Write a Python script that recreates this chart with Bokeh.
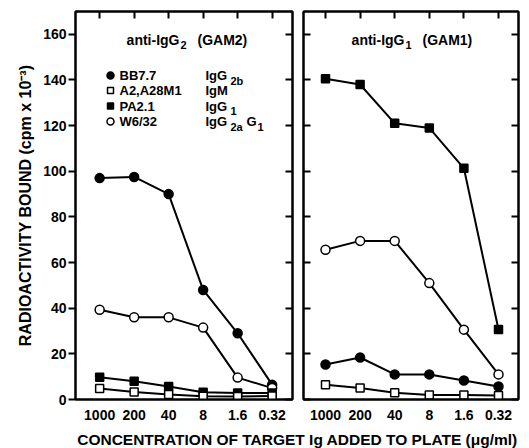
from bokeh.plotting import figure
from bokeh.models import Range1d, LinearAxis, FixedTicker
from bokeh.layouts import row, column
from bokeh.core.properties import value
from bokeh.embed import file_html
from bokeh.resources import INLINE

# ---------------- data ----------------
conc = ["1000", "200", "40", "8", "1.6", "0.32"]
y_ticks = [0, 20, 40, 60, 80, 100, 120, 140, 160]

names = ["BB7.7", "A2,A28M1", "PA2.1", "W6/32"]

# anti-IgG2 (GAM2) panel
gam2_bb77 = [97, 97.5, 90, 48, 29, 6.5]
gam2_a2 = [4.8, 3.3, 2.2, 1.4, 1.3, 1.5]
gam2_pa21 = [9.8, 8, 5.7, 3.2, 2.9, 2.8]
gam2_w632 = [39.3, 36, 36, 31.5, 9.6, 5]

# anti-IgG1 (GAM1) panel
gam1_bb77 = [15.3, 18.4, 11, 11, 8.3, 5.7]
gam1_a2 = [6.5, 5, 3, 2, 2, 1.7]
gam1_pa21 = [140.5, 138, 121, 119, 101.3, 30.7]
gam1_w632 = [65.6, 69.5, 69.5, 51, 30.6, 11]

FONT = "Liberation Sans"
H_MAIN = 424
FRAME_H = 388
Y_MAX = 170

styles = {
    "BB7.7": dict(marker="circle", fill="black", size=9),
    "A2,A28M1": dict(marker="square", fill="white", size=8),
    "PA2.1": dict(marker="square", fill="black", size=8),
    "W6/32": dict(marker="circle", fill="white", size=9),
}


def style_hidden_axis(ax, tick_in):
    ax.axis_line_width = 2
    ax.axis_line_color = "black"
    ax.major_tick_line_width = 2
    ax.major_tick_in = tick_in
    ax.major_tick_out = 0
    ax.minor_tick_line_color = None
    ax.major_label_text_color = None
    ax.major_label_text_font_size = "1px"
    ax.major_label_standoff = 0


def make_panel(xr, border_l, frame_w, border_r, y_labels):
    p = figure(width=border_l + frame_w + border_r, height=H_MAIN,
               x_range=Range1d(*xr), y_range=Range1d(0, Y_MAX),
               output_backend="svg", toolbar_location=None,
               min_border_left=border_l, min_border_right=border_r,
               min_border_top=11, min_border_bottom=H_MAIN - 11 - FRAME_H)
    p.grid.visible = False
    p.outline_line_color = "black"
    p.outline_line_width = 2
    p.background_fill_color = "white"
    p.border_fill_color = "white"

    xa = p.xaxis[0]
    xa.ticker = FixedTicker(ticks=list(range(len(conc))))
    xa.major_label_overrides = {i: c for i, c in enumerate(conc)}
    xa.axis_line_width = 2
    xa.major_tick_line_color = None
    xa.minor_tick_line_color = None
    xa.major_label_text_font = FONT
    xa.major_label_text_font_style = "bold"
    xa.major_label_text_font_size = "14px"
    xa.major_label_text_color = "black"
    xa.major_label_standoff = 4

    ya = p.yaxis[0]
    ya.ticker = FixedTicker(ticks=y_ticks)
    if y_labels:
        ya.axis_line_width = 2
        ya.major_tick_line_width = 2
        ya.major_tick_in = 0
        ya.major_tick_out = 7
        ya.minor_tick_line_color = None
        ya.major_label_text_font = FONT
        ya.major_label_text_font_style = "bold"
        ya.major_label_text_font_size = "14px"
        ya.major_label_text_color = "black"
        ya.major_label_standoff = 2
        ya.axis_label = "RADIOACTIVITY BOUND (cpm x 10\u207b\u00b3)"
        ya.axis_label_text_font = FONT
        ya.axis_label_text_font_style = "bold"
        ya.axis_label_text_font_size = "16px"
        ya.axis_label_text_color = "black"
        ya.axis_label_standoff = 6
    else:
        style_hidden_axis(ya, 7)

    ra = LinearAxis(ticker=FixedTicker(ticks=y_ticks))
    style_hidden_axis(ra, 7)
    p.add_layout(ra, "right")

    ta = LinearAxis(ticker=FixedTicker(ticks=list(range(len(conc)))))
    style_hidden_axis(ta, 7)
    p.add_layout(ta, "above")
    return p


def draw_series(p, series):
    xs = list(range(len(conc)))
    for name, ys in series:
        p.line(xs, ys, line_color="black", line_width=2)
    for name, ys in series:
        st = styles[name]
        p.scatter(xs, ys, marker=st["marker"], size=st["size"],
                  fill_color=st["fill"], line_color="black", line_width=1.5)


def txt(p, x, y, s, size, dx=0, dy=0, align="left"):
    p.text(x=[x], y=[y], text=[s], x_offset=dx, y_offset=dy,
           text_font=value(FONT), text_font_style="bold",
           text_font_size=size, text_color="black",
           text_align=align, text_baseline="middle")


def yy(px):
    return Y_MAX - px * Y_MAX / FRAME_H


# ---------------- left panel ----------------
XR_L = (-0.70, 5.59)
FW_L = 217
left = make_panel(XR_L, 75, FW_L, 5, True)
draw_series(left, [("BB7.7", gam2_bb77), ("W6/32", gam2_w632),
                   ("PA2.1", gam2_pa21), ("A2,A28M1", gam2_a2)])


def lx(px):
    return XR_L[0] + px * (XR_L[1] - XR_L[0]) / FW_L


# title
ty = yy(28)
ax_ = lx(104)
txt(left, ax_, ty, "anti-IgG", "14px", align="right")
txt(left, ax_, ty, "2", "11px", dx=1, dy=5)
txt(left, ax_, ty, "(GAM2)", "14px", dx=18)

# legend
rows_px = [64, 79, 94.5, 110]
leg_y = [yy(r) for r in rows_px]
for name, ly in zip(names, leg_y):
    st = styles[name]
    left.scatter([lx(35)], [ly], marker=st["marker"], size=st["size"] - 2,
                 fill_color=st["fill"], line_color="black", line_width=1.5)
left.text(x=[lx(44)] * 4, y=leg_y, text=names, text_font=value(FONT),
          text_font_style="bold", text_font_size="13px", text_color="black",
          text_baseline="middle")
c2 = lx(130)
txt(left, c2, leg_y[0], "IgG", "13px")
txt(left, c2, leg_y[0], "2b", "11px", dx=25, dy=5)
txt(left, c2, leg_y[1], "IgM", "13px")
txt(left, c2, leg_y[2], "IgG", "13px")
txt(left, c2, leg_y[2], "1", "11px", dx=25, dy=5)
txt(left, c2, leg_y[3], "IgG", "13px")
txt(left, c2, leg_y[3], "2a", "11px", dx=25, dy=5)
txt(left, c2, leg_y[3], "G", "13px", dx=41)
txt(left, c2, leg_y[3], "1", "11px", dx=52, dy=5)

# ---------------- right panel ----------------
XR_R = (-0.636, 5.578)
FW_R = 215
right = make_panel(XR_R, 6, FW_R, 11, False)
draw_series(right, [("PA2.1", gam1_pa21), ("W6/32", gam1_w632),
                    ("BB7.7", gam1_bb77), ("A2,A28M1", gam1_a2)])


def rx(px):
    return XR_R[0] + px * (XR_R[1] - XR_R[0]) / FW_R


ty_r = yy(28)
axr = rx(101)
txt(right, axr, ty_r, "anti-IgG", "14px", align="right")
txt(right, axr, ty_r, "1", "11px", dx=1, dy=5)
txt(right, axr, ty_r, "(GAM1)", "14px", dx=18)

# ---------------- bottom axis title ----------------
BW, BH = 529, 24
bottom = figure(width=BW, height=BH, x_range=Range1d(0, BW), y_range=Range1d(0, BH),
                output_backend="svg", toolbar_location=None,
                x_axis_location=None, y_axis_location=None,
                min_border=0, min_border_left=0, min_border_right=0,
                min_border_top=0, min_border_bottom=0)
bottom.grid.visible = False
bottom.outline_line_color = None
bottom.border_fill_color = "white"
bottom.text(x=[297], y=[9], text=["CONCENTRATION OF TARGET Ig ADDED TO PLATE (\u03bcg/ml)"],
            text_font=value(FONT), text_font_style="bold", text_font_size="15.5px",
            text_color="black", text_align="center", text_baseline="middle")

layout = column(row(left, right), bottom)
open("out.html", "w").write(file_html(layout, INLINE))
